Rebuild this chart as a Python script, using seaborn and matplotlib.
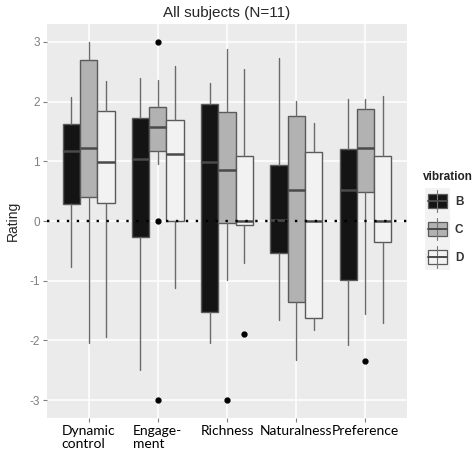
import matplotlib
matplotlib.use("Agg")
import matplotlib.pyplot as plt
import seaborn as sns
import numpy as np
from matplotlib.patches import Rectangle

# ---------------- data ----------------
categories = ["Dynamic\ncontrol", "Engage-\nment", "Richness", "Naturalness", "Preference"]
groups = ["B", "C", "D"]

# per group: one value per category
whislo = {
    "B": [-0.77, -2.50, -2.04, -1.66, -2.07],
    "C": [-2.04, 0.96, -0.98, -2.33, -1.56],
    "D": [-1.95, -1.12, -0.70, -1.82, -1.71],
}
q1 = {
    "B": [0.28, -0.26, -1.52, -0.53, -0.99],
    "C": [0.40, 1.18, -0.03, -1.35, 0.48],
    "D": [0.30, 0.00, -0.06, -1.62, -0.35],
}
med = {
    "B": [1.17, 1.04, 0.98, 0.02, 0.52],
    "C": [1.23, 1.58, 0.86, 0.52, 1.23],
    "D": [0.98, 1.13, 0.00, 0.00, 0.00],
}
q3 = {
    "B": [1.63, 1.72, 1.96, 0.93, 1.20],
    "C": [2.70, 1.91, 1.82, 1.76, 1.87],
    "D": [1.85, 1.69, 1.09, 1.16, 1.09],
}
whishi = {
    "B": [2.07, 2.40, 2.32, 2.73, 2.04],
    "C": [3.00, 2.37, 2.88, 2.01, 2.04],
    "D": [2.35, 2.60, 2.55, 1.65, 2.10],
}
fliers = {
    "B": [[], [], [], [], []],
    "C": [[], [3.0, 0.0, -3.0], [-3.0], [], [-2.34]],
    "D": [[], [], [-1.89], [], []],
}
fill_colors = {"B": "#141414", "C": "#b2b2b2", "D": "#f2f2f2"}

yticks = [-3, -2, -1, 0, 1, 2, 3]

# ---------------- style ----------------
sns.set_theme(style="darkgrid")
plt.rcParams["font.family"] = ["Liberation Sans", "DejaVu Sans"]

W, H = 477, 451
fig = plt.figure(figsize=(W / 100, H / 100), dpi=100)
ax = fig.add_axes([47 / W, (H - 418) / H, 360 / W, 394 / H])
ax.set_facecolor("#ebebeb")

line_col = "#5a5a5a"
offsets = {"B": -0.25, "C": 0.0, "D": 0.25}
for g in groups:
    stats = []
    for i in range(len(categories)):
        stats.append(dict(whislo=whislo[g][i], q1=q1[g][i], med=med[g][i],
                          q3=q3[g][i], whishi=whishi[g][i], fliers=fliers[g][i]))
    pos = np.arange(len(categories)) + offsets[g]
    ax.bxp(stats, positions=pos, widths=0.25, patch_artist=True, showcaps=False,
           boxprops=dict(facecolor=fill_colors[g], edgecolor=line_col, linewidth=1.0),
           whiskerprops=dict(color="#6a6a6a", linewidth=1.0),
           medianprops=dict(color="#4a4a4a", linewidth=1.8),
           flierprops=dict(marker="o", markerfacecolor="black", markeredgecolor="black",
                           markersize=3.5, linestyle="none"),
           manage_ticks=False, zorder=3)

ax.axhline(0, color="black", linewidth=1.7, linestyle=(0, (1, 3.2)), zorder=4)

ax.set_xlim(-0.6, len(categories) - 0.4)
ax.set_ylim(-3.3, 3.3)
ax.set_yticks(yticks)
ax.set_yticklabels([str(t) for t in yticks])
ax.set_xticks(np.arange(len(categories)))
ax.set_xticklabels(categories, family=["Lato", "DejaVu Sans"], fontsize=10,
                   color="black", linespacing=1.15, multialignment="left")
ax.tick_params(axis="y", labelsize=8.5, labelcolor="#7f7f7f", length=3, color="#7f7f7f",
               width=0.8, pad=2, left=True)
ax.tick_params(axis="x", length=3, color="#7f7f7f", width=0.8, pad=2, bottom=True)
ax.grid(True, which="major", color="white", linewidth=1.1)
ax.set_axisbelow(True)
for s in ax.spines.values():
    s.set_visible(False)

ax.set_ylabel("Rating", fontsize=10, labelpad=7)
ax.set_xlabel("")
fig.text(227 / W, 1 - 13 / H, "All subjects (N=11)", ha="center", va="center", fontsize=11)

# ---------------- legend ----------------
lax = fig.add_axes([0, 0, 1, 1], facecolor="none")
lax.set_xlim(0, W)
lax.set_ylim(H, 0)
lax.axis("off")
lax.text(448, 177, "vibration", ha="center", va="center", fontsize=8.5, fontweight="bold",
         color="#222222")
lax.add_patch(Rectangle((425, 188), 25, 82, facecolor="#f2f2f2", edgecolor="none"))
key_y = {"B": 201, "C": 229, "D": 257}
for g in groups:
    cy = key_y[g]
    lax.plot([437, 437], [cy - 11, cy + 11], color="#777777", lw=0.8)
    lax.add_patch(Rectangle((428, cy - 7), 19, 14, facecolor=fill_colors[g],
                            edgecolor=line_col, lw=0.9))
    lax.plot([428, 447], [cy, cy], color="#4a4a4a", lw=1.4)
    lax.text(455, cy + 1, g, ha="left", va="center", fontsize=8.5, fontweight="bold",
             color="#333333")

fig.savefig("out.png", dpi=100)
